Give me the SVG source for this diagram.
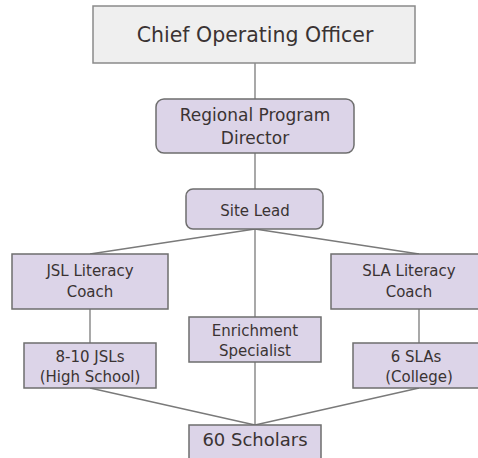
<svg xmlns="http://www.w3.org/2000/svg" width="478" height="458" viewBox="0 0 478 458">
<style>
text{font-family:"DejaVu Sans","Liberation Sans",Arial,sans-serif;fill:#3a3333;text-anchor:middle}
.n{fill:#dcd4e8;stroke:#6e6e6e;stroke-width:1.5}
.c{fill:#efefef;stroke:#8a8a8a;stroke-width:1.5}
.l{stroke:#7a7a7a;stroke-width:1.3;fill:none}
.s15{font-size:15px}
</style>
<rect width="478" height="458" fill="#fff"/>
<g id="connectors">
<line class="l" x1="255" y1="63" x2="255" y2="99"/>
<line class="l" x1="255" y1="153" x2="255" y2="189"/>
<line class="l" x1="255" y1="229" x2="90" y2="254"/>
<line class="l" x1="255" y1="229" x2="419" y2="254"/>
<line class="l" x1="255" y1="229" x2="255" y2="317"/>
<line class="l" x1="90" y1="309" x2="90" y2="343"/>
<line class="l" x1="419" y1="309" x2="419" y2="343"/>
<line class="l" x1="90" y1="388" x2="255" y2="425"/>
<line class="l" x1="419" y1="388" x2="255" y2="425"/>
<line class="l" x1="255" y1="362" x2="255" y2="425"/>
</g>
<g id="coo">
<rect class="c" x="93" y="6" width="322" height="57"/>
<text x="255" y="42" font-size="20.5">Chief Operating Officer</text>
</g>
<g id="rpd">
<rect class="n" x="156" y="99" width="198" height="54" rx="8"/>
<text x="255" y="121" font-size="17">Regional Program</text>
<text x="255" y="144" font-size="17">Director</text>
</g>
<g id="site-lead">
<rect class="n" x="186" y="189" width="137" height="40" rx="7"/>
<text class="s15" x="255" y="216">Site Lead</text>
</g>
<g id="jsl-coach">
<rect class="n" x="12" y="254" width="156" height="55"/>
<text class="s15" x="90" y="276">JSL Literacy</text>
<text class="s15" x="90" y="297">Coach</text>
</g>
<g id="sla-coach">
<rect class="n" x="331" y="254" width="156" height="55"/>
<text class="s15" x="409" y="276">SLA Literacy</text>
<text class="s15" x="409" y="297">Coach</text>
</g>
<g id="enrichment">
<rect class="n" x="189" y="317" width="132" height="45"/>
<text class="s15" x="255" y="336">Enrichment</text>
<text class="s15" x="255" y="356">Specialist</text>
</g>
<g id="jsls">
<rect class="n" x="24" y="343" width="132" height="45"/>
<text class="s15" x="90" y="362">8-10 JSLs</text>
<text class="s15" x="90" y="382">(High School)</text>
</g>
<g id="slas">
<rect class="n" x="353" y="343" width="132" height="45"/>
<text class="s15" x="416" y="362">6 SLAs</text>
<text class="s15" x="419" y="382">(College)</text>
</g>
<g id="scholars">
<rect class="n" x="189" y="425" width="132" height="40"/>
<text x="255" y="446" font-size="18">60 Scholars</text>
</g>
</svg>
